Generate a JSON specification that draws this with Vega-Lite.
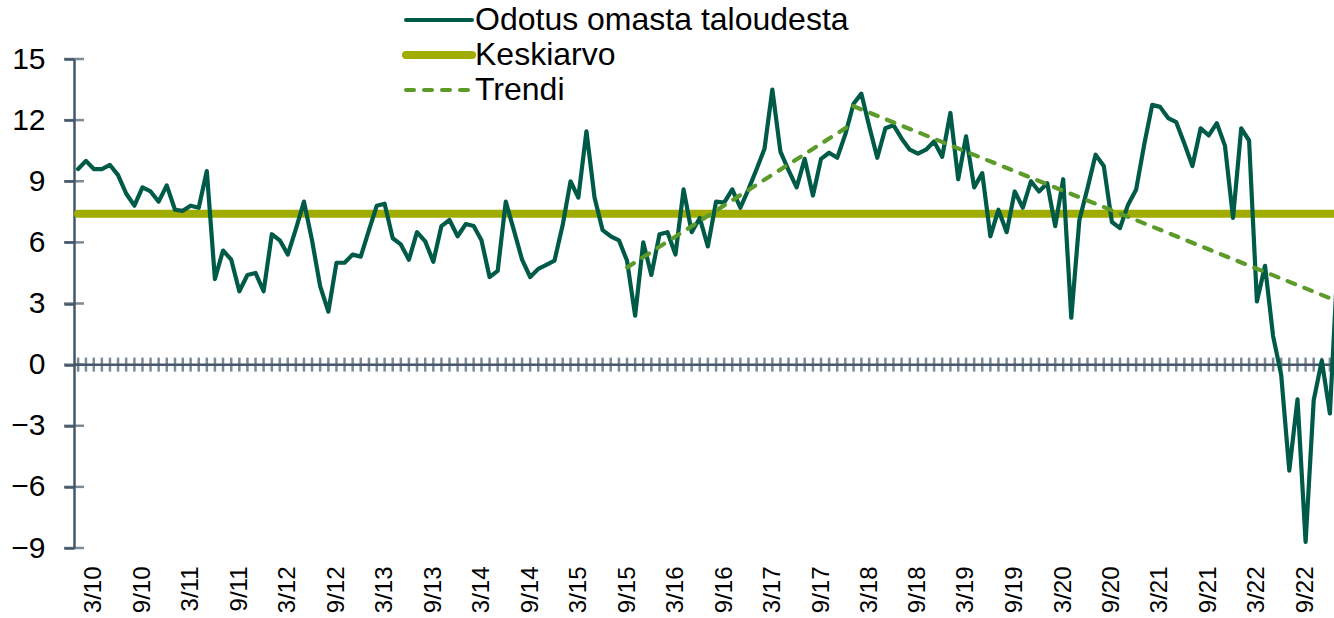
{
  "$schema": "https://vega.github.io/schema/vega-lite/v6.json",
  "autosize": {"type": "none"},
  "padding": {"left": 74, "top": 59, "right": 0, "bottom": 70},
  "width": 1260,
  "height": 489,
  "background": "white",
  "config": {"view": {"stroke": null}, "font": "Liberation Sans"},
  "datasets": {
    "main": [
      {"d": "2010-01-01", "v": 9.6}, {"d": "2010-02-01", "v": 10.0}, {"d": "2010-03-01", "v": 9.6}, {"d": "2010-04-01", "v": 9.6},
      {"d": "2010-05-01", "v": 9.8}, {"d": "2010-06-01", "v": 9.3}, {"d": "2010-07-01", "v": 8.4}, {"d": "2010-08-01", "v": 7.8},
      {"d": "2010-09-01", "v": 8.7}, {"d": "2010-10-01", "v": 8.5}, {"d": "2010-11-01", "v": 8.0}, {"d": "2010-12-01", "v": 8.8},
      {"d": "2011-01-01", "v": 7.6}, {"d": "2011-02-01", "v": 7.55}, {"d": "2011-03-01", "v": 7.8}, {"d": "2011-04-01", "v": 7.7},
      {"d": "2011-05-01", "v": 9.5}, {"d": "2011-06-01", "v": 4.2}, {"d": "2011-07-01", "v": 5.6}, {"d": "2011-08-01", "v": 5.15},
      {"d": "2011-09-01", "v": 3.6}, {"d": "2011-10-01", "v": 4.4}, {"d": "2011-11-01", "v": 4.5}, {"d": "2011-12-01", "v": 3.6},
      {"d": "2012-01-01", "v": 6.4}, {"d": "2012-02-01", "v": 6.1}, {"d": "2012-03-01", "v": 5.4}, {"d": "2012-04-01", "v": 6.65},
      {"d": "2012-05-01", "v": 8.0}, {"d": "2012-06-01", "v": 6.1}, {"d": "2012-07-01", "v": 3.85}, {"d": "2012-08-01", "v": 2.6},
      {"d": "2012-09-01", "v": 5.0}, {"d": "2012-10-01", "v": 5.0}, {"d": "2012-11-01", "v": 5.4}, {"d": "2012-12-01", "v": 5.3},
      {"d": "2013-01-01", "v": 6.6}, {"d": "2013-02-01", "v": 7.8}, {"d": "2013-03-01", "v": 7.9}, {"d": "2013-04-01", "v": 6.2},
      {"d": "2013-05-01", "v": 5.9}, {"d": "2013-06-01", "v": 5.15}, {"d": "2013-07-01", "v": 6.5}, {"d": "2013-08-01", "v": 6.05},
      {"d": "2013-09-01", "v": 5.05}, {"d": "2013-10-01", "v": 6.8}, {"d": "2013-11-01", "v": 7.1}, {"d": "2013-12-01", "v": 6.3},
      {"d": "2014-01-01", "v": 6.9}, {"d": "2014-02-01", "v": 6.8}, {"d": "2014-03-01", "v": 6.1}, {"d": "2014-04-01", "v": 4.3},
      {"d": "2014-05-01", "v": 4.6}, {"d": "2014-06-01", "v": 8.0}, {"d": "2014-07-01", "v": 6.6}, {"d": "2014-08-01", "v": 5.15},
      {"d": "2014-09-01", "v": 4.3}, {"d": "2014-10-01", "v": 4.7}, {"d": "2014-11-01", "v": 4.9}, {"d": "2014-12-01", "v": 5.1},
      {"d": "2015-01-01", "v": 6.85}, {"d": "2015-02-01", "v": 9.0}, {"d": "2015-03-01", "v": 8.2}, {"d": "2015-04-01", "v": 11.45},
      {"d": "2015-05-01", "v": 8.2}, {"d": "2015-06-01", "v": 6.6}, {"d": "2015-07-01", "v": 6.3}, {"d": "2015-08-01", "v": 6.1},
      {"d": "2015-09-01", "v": 5.1}, {"d": "2015-10-01", "v": 2.4}, {"d": "2015-11-01", "v": 6.0}, {"d": "2015-12-01", "v": 4.4},
      {"d": "2016-01-01", "v": 6.4}, {"d": "2016-02-01", "v": 6.5}, {"d": "2016-03-01", "v": 5.4}, {"d": "2016-04-01", "v": 8.6},
      {"d": "2016-05-01", "v": 6.5}, {"d": "2016-06-01", "v": 7.2}, {"d": "2016-07-01", "v": 5.8}, {"d": "2016-08-01", "v": 8.0},
      {"d": "2016-09-01", "v": 7.95}, {"d": "2016-10-01", "v": 8.6}, {"d": "2016-11-01", "v": 7.7}, {"d": "2016-12-01", "v": 8.6},
      {"d": "2017-01-01", "v": 9.6}, {"d": "2017-02-01", "v": 10.6}, {"d": "2017-03-01", "v": 13.5}, {"d": "2017-04-01", "v": 10.45},
      {"d": "2017-05-01", "v": 9.55}, {"d": "2017-06-01", "v": 8.7}, {"d": "2017-07-01", "v": 10.1}, {"d": "2017-08-01", "v": 8.3},
      {"d": "2017-09-01", "v": 10.1}, {"d": "2017-10-01", "v": 10.4}, {"d": "2017-11-01", "v": 10.15}, {"d": "2017-12-01", "v": 11.3},
      {"d": "2018-01-01", "v": 12.8}, {"d": "2018-02-01", "v": 13.3}, {"d": "2018-03-01", "v": 11.7}, {"d": "2018-04-01", "v": 10.15},
      {"d": "2018-05-01", "v": 11.6}, {"d": "2018-06-01", "v": 11.75}, {"d": "2018-07-01", "v": 11.1}, {"d": "2018-08-01", "v": 10.55},
      {"d": "2018-09-01", "v": 10.35}, {"d": "2018-10-01", "v": 10.55}, {"d": "2018-11-01", "v": 10.95}, {"d": "2018-12-01", "v": 10.2},
      {"d": "2019-01-01", "v": 12.35}, {"d": "2019-02-01", "v": 9.1}, {"d": "2019-03-01", "v": 11.2}, {"d": "2019-04-01", "v": 8.7},
      {"d": "2019-05-01", "v": 9.4}, {"d": "2019-06-01", "v": 6.3}, {"d": "2019-07-01", "v": 7.6}, {"d": "2019-08-01", "v": 6.5},
      {"d": "2019-09-01", "v": 8.5}, {"d": "2019-10-01", "v": 7.7}, {"d": "2019-11-01", "v": 9.0}, {"d": "2019-12-01", "v": 8.5},
      {"d": "2020-01-01", "v": 8.9}, {"d": "2020-02-01", "v": 6.8}, {"d": "2020-03-01", "v": 9.1}, {"d": "2020-04-01", "v": 2.3},
      {"d": "2020-05-01", "v": 7.1}, {"d": "2020-06-01", "v": 8.65}, {"d": "2020-07-01", "v": 10.3}, {"d": "2020-08-01", "v": 9.75},
      {"d": "2020-09-01", "v": 7.0}, {"d": "2020-10-01", "v": 6.7}, {"d": "2020-11-01", "v": 7.85}, {"d": "2020-12-01", "v": 8.6},
      {"d": "2021-01-01", "v": 10.85}, {"d": "2021-02-01", "v": 12.75}, {"d": "2021-03-01", "v": 12.65}, {"d": "2021-04-01", "v": 12.1},
      {"d": "2021-05-01", "v": 11.9}, {"d": "2021-06-01", "v": 10.85}, {"d": "2021-07-01", "v": 9.75}, {"d": "2021-08-01", "v": 11.6},
      {"d": "2021-09-01", "v": 11.25}, {"d": "2021-10-01", "v": 11.85}, {"d": "2021-11-01", "v": 10.75}, {"d": "2021-12-01", "v": 7.2},
      {"d": "2022-01-01", "v": 11.6}, {"d": "2022-02-01", "v": 11.0}, {"d": "2022-03-01", "v": 3.1}, {"d": "2022-04-01", "v": 4.85},
      {"d": "2022-05-01", "v": 1.4}, {"d": "2022-06-01", "v": -0.5}, {"d": "2022-07-01", "v": -5.2}, {"d": "2022-08-01", "v": -1.7},
      {"d": "2022-09-01", "v": -8.7}, {"d": "2022-10-01", "v": -1.75}, {"d": "2022-11-01", "v": 0.2}, {"d": "2022-12-01", "v": -2.4},
      {"d": "2023-01-01", "v": 5.5}
    ]
  },
  "layer": [
    {
      "data": {"values": [{"z": 0}]},
      "mark": {"type": "rule", "color": "#44586a", "strokeWidth": 2.5},
      "encoding": {"y": {"field": "z", "type": "quantitative"}}
    },
    {
      "data": {"name": "main"},
      "mark": {"type": "tick", "orient": "vertical", "size": 14, "thickness": 2.5, "color": "#44586a", "clip": true},
      "encoding": {
        "x": {"field": "d", "timeUnit": "utcyearmonth", "type": "temporal"},
        "y": {"datum": 0, "type": "quantitative"}
      }
    },
    {
      "data": {"values": [{"t": -9}, {"t": -6}, {"t": -3}, {"t": 0}, {"t": 3}, {"t": 6}, {"t": 9}, {"t": 12}, {"t": 15}]},
      "mark": {"type": "tick", "orient": "horizontal", "size": 20, "thickness": 2.5, "color": "#44586a"},
      "encoding": {
        "x": {"datum": {"year": 2010, "month": 1, "date": 1, "utc": true}, "type": "temporal"},
        "y": {"field": "t", "type": "quantitative"}
      }
    },
    {
      "data": {"values": [{"d": "2010-01-01", "v": 7.4}, {"d": "2023-01-01", "v": 7.4}]},
      "mark": {"type": "line", "strokeWidth": 8, "strokeCap": "round", "clip": true},
      "encoding": {
        "x": {"field": "d", "timeUnit": "utcyearmonth", "type": "temporal", "bandPosition": 0.5},
        "y": {"field": "v", "type": "quantitative"},
        "color": {"datum": "Keskiarvo", "type": "nominal"}
      }
    },
    {
      "data": {"name": "main"},
      "mark": {"type": "line", "strokeWidth": 4.2, "strokeCap": "round", "strokeJoin": "round", "clip": true},
      "encoding": {
        "x": {
          "field": "d", "timeUnit": "utcyearmonth", "type": "temporal", "bandPosition": 0.5,
          "scale": {"domain": [{"year": 2010, "month": 1, "date": 1, "utc": true}, {"year": 2023, "month": 1, "date": 1, "utc": true}], "nice": false},
          "axis": {
            "orient": "bottom", "title": null, "domain": false, "ticks": false, "grid": false,
            "values": [
              {"year": 2010, "month": 3, "date": 16, "utc": true}, {"year": 2010, "month": 9, "date": 16, "utc": true},
              {"year": 2011, "month": 3, "date": 16, "utc": true}, {"year": 2011, "month": 9, "date": 16, "utc": true},
              {"year": 2012, "month": 3, "date": 16, "utc": true}, {"year": 2012, "month": 9, "date": 16, "utc": true},
              {"year": 2013, "month": 3, "date": 16, "utc": true}, {"year": 2013, "month": 9, "date": 16, "utc": true},
              {"year": 2014, "month": 3, "date": 16, "utc": true}, {"year": 2014, "month": 9, "date": 16, "utc": true},
              {"year": 2015, "month": 3, "date": 16, "utc": true}, {"year": 2015, "month": 9, "date": 16, "utc": true},
              {"year": 2016, "month": 3, "date": 16, "utc": true}, {"year": 2016, "month": 9, "date": 16, "utc": true},
              {"year": 2017, "month": 3, "date": 16, "utc": true}, {"year": 2017, "month": 9, "date": 16, "utc": true},
              {"year": 2018, "month": 3, "date": 16, "utc": true}, {"year": 2018, "month": 9, "date": 16, "utc": true},
              {"year": 2019, "month": 3, "date": 16, "utc": true}, {"year": 2019, "month": 9, "date": 16, "utc": true},
              {"year": 2020, "month": 3, "date": 16, "utc": true}, {"year": 2020, "month": 9, "date": 16, "utc": true},
              {"year": 2021, "month": 3, "date": 16, "utc": true}, {"year": 2021, "month": 9, "date": 16, "utc": true},
              {"year": 2022, "month": 3, "date": 16, "utc": true}, {"year": 2022, "month": 9, "date": 16, "utc": true}
            ],
            "labelExpr": "(utcmonth(datum.value) + 1) + '/' + utcFormat(datum.value, '%y')",
            "labelAngle": -90, "labelFontSize": 24, "labelColor": "black", "labelPadding": 18, "labelFont": "Liberation Sans"
          }
        },
        "y": {
          "field": "v", "type": "quantitative",
          "scale": {"domain": [-9, 15], "nice": false, "zero": false},
          "axis": {
            "title": null, "values": [-9, -6, -3, 0, 3, 6, 9, 12, 15], "grid": false,
            "domainColor": "#44586a", "domainWidth": 2.5, "tickColor": "#44586a", "tickWidth": 2.5, "tickSize": 10,
            "labelFontSize": 30, "labelColor": "black", "labelPadding": 19, "labelFont": "Liberation Sans"
          }
        },
        "color": {
          "datum": "Odotus omasta taloudesta", "type": "nominal",
          "scale": {"domain": ["Odotus omasta taloudesta", "Keskiarvo", "Trendi"], "range": ["#005a48", "#a0ac00", "#5c9b2a"]},
          "legend": {
            "title": null, "orient": "none", "legendX": 349, "legendY": -55, "padding": 0,
            "symbolType": "stroke", "symbolSize": 4356, "symbolStrokeWidth": 4,
            "labelFontSize": 32, "labelColor": "black", "labelLimit": 700, "labelOffset": 20, "rowPadding": 3,
            "labelFont": "Liberation Sans",
            "encode": {
              "symbols": {
                "update": {
                  "strokeWidth": {"signal": "datum.value === 'Keskiarvo' ? 8 : 4"},
                  "strokeDash": {"signal": "datum.value === 'Trendi' ? [8, 10] : null"},
                  "strokeCap": {"value": "round"}
                }
              }
            }
          }
        }
      }
    },
    {
      "data": {"values": [
        {"d": "2015-09-01", "v": 4.77, "g": "nousu"}, {"d": "2018-01-01", "v": 11.86, "g": "nousu"},
        {"d": "2018-01-01", "v": 12.68, "g": "lasku"}, {"d": "2023-01-01", "v": 3.1, "g": "lasku"}
      ]},
      "mark": {"type": "line", "strokeWidth": 4.2, "strokeDash": [8, 10], "strokeCap": "round", "clip": true},
      "encoding": {
        "x": {"field": "d", "timeUnit": "utcyearmonth", "type": "temporal", "bandPosition": 0.5},
        "y": {"field": "v", "type": "quantitative"},
        "detail": {"field": "g", "type": "nominal"},
        "color": {"datum": "Trendi", "type": "nominal"}
      }
    }
  ]
}
